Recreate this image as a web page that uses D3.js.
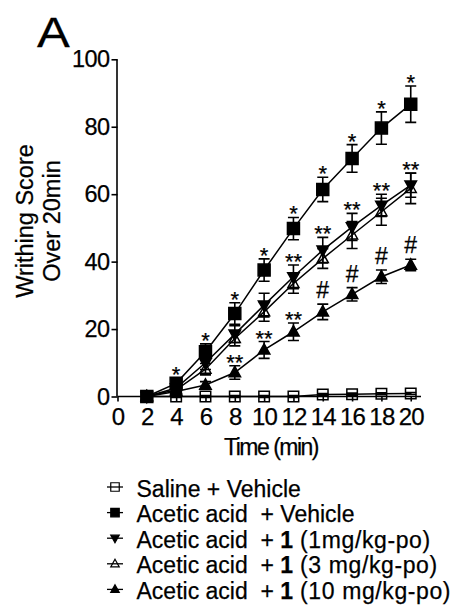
<!DOCTYPE html>
<html>
<head>
<meta charset="utf-8">
<script src="https://cdn.jsdelivr.net/npm/d3@7/dist/d3.min.js"></script>
<style>
  html, body { margin: 0; padding: 0; background: #fff; }
  svg { display: block; font-family: "Liberation Sans", Arial, Helvetica, sans-serif; }
  text { white-space: pre; fill: #000; stroke: #000; stroke-width: 0.25; }
</style>
</head>
<body>
<svg id="chart" width="457" height="605"></svg>
<script>
// Time points (min)
const times = [2, 4, 6, 8, 10, 12, 14, 16, 18, 20];

// Mean writhing score and SEM per group
const saline      = [0, 0, 0, 0, 0, 0, 0.6, 0.7, 0.8, 0.9];
const salineSem   = [0, 0.3, 0.3, 0.3, 0.3, 0.3, 0.3, 0.3, 0.3, 0.3];
const vehicle     = [0, 3.9, 13.3, 24.6, 37.5, 49.8, 61.4, 70.6, 79.6, 86.7];
const vehicleSem  = [0, 1.5, 2.3, 3.2, 3.3, 3.3, 3.6, 4.1, 4.8, 5.4];
const dose1       = [0, 2.5, 10.0, 18.5, 27.1, 35.5, 43.4, 50.3, 56.7, 62.7];
const dose1Sem    = [0, 1.0, 2.0, 2.5, 3.5, 3.5, 3.8, 4.0, 3.3, 3.6];
const dose3       = [0, 2.0, 8.1, 17.2, 25.1, 33.5, 40.9, 47.9, 54.8, 61.7];
const dose3Sem    = [0, 1.0, 1.7, 2.2, 2.8, 2.9, 2.9, 4.0, 4.0, 4.5];
const dose10      = [0, 1.5, 3.4, 7.1, 13.8, 19.2, 25.1, 30.3, 35.5, 39.0];
const dose10Sem   = [0, 0.6, 1.0, 2.0, 2.5, 2.6, 2.3, 2.0, 2.0, 1.7];

// Significance marks per time point ("" = none)
const vehicleMarks = ["", "*", "*", "*", "*", "*", "*", "*", "*", "*"];
const dose1Marks   = ["", "", "", "", "", "**", "**", "**", "**", "**"];
const dose10Marks  = ["", "", "", "**", "**", "**", "#", "#", "#", "#"];

// Axis ticks
const xTicks = [0, 2, 4, 6, 8, 10, 12, 14, 16, 18, 20];
const yTicks = [0, 20, 40, 60, 80, 100];

// Legend entries: [before bold, bold, after bold]
const legendLabels = [
  ["Saline + Vehicle", "", ""],
  ["Acetic acid  + Vehicle", "", ""],
  ["Acetic acid  + ", "1", " (1mg/kg-po)"],
  ["Acetic acid  + ", "1", " (3 mg/kg-po)"],
  ["Acetic acid  + ", "1", " (10 mg/kg-po)"]
];

const series = [
  { values: saline,  sem: salineSem,  shape: "square",  filled: false, size: 10.5, marks: null },
  { values: vehicle, sem: vehicleSem, shape: "square",  filled: true,  size: 12,   marks: vehicleMarks },
  { values: dose3,   sem: dose3Sem,   shape: "up",      filled: false, size: 11,   marks: null },
  { values: dose1,   sem: dose1Sem,   shape: "down",    filled: true,  size: 11.5, marks: dose1Marks },
  { values: dose10,  sem: dose10Sem,  shape: "up",      filled: true,  size: 11.5, marks: dose10Marks }
];
const legendOrder = [0, 1, 3, 2, 4];

const svg = d3.select("#chart");
const x = d3.scaleLinear().domain([0, 20.7]).range([117.5, 421]);
const y = d3.scaleLinear().domain([0, 100]).range([396.5, 59.3]);

function markerPath(shape, s) {
  const h = s / 2;
  if (shape === "square") return `M${-h},${-h}H${h}V${h}H${-h}Z`;
  const th = s * 0.9, half = s / 2;
  if (shape === "up") return `M0,${-th * 0.6}L${half},${th * 0.4}L${-half},${th * 0.4}Z`;
  return `M0,${th * 0.6}L${half},${-th * 0.4}L${-half},${-th * 0.4}Z`;
}

// Axes
const yAxis = d3.axisLeft(y).tickValues(yTicks).tickSize(6).tickPadding(2);
const gy = svg.append("g").attr("transform", `translate(${x(0)},0)`).call(yAxis);
gy.select(".domain").attr("d", `M-0.5,${y(100)}V${y(0)}`);
const xAxis = d3.axisBottom(x).tickValues(xTicks).tickSize(5).tickPadding(8);
const gx = svg.append("g").attr("transform", `translate(0,${y(0)})`).call(xAxis);
gx.select(".domain").attr("d", `M${x(0)},0H421`);
svg.selectAll(".domain, .tick line").attr("stroke", "#000").attr("stroke-width", 1.6);
gy.selectAll(".tick text").attr("font-size", 23.5).attr("fill", "#000")
  .attr("font-family", "Liberation Sans, Arial, sans-serif").attr("letter-spacing", -0.6);
gx.selectAll(".tick text").attr("font-size", 24).attr("fill", "#000")
  .attr("font-family", "Liberation Sans, Arial, sans-serif")
  .attr("letter-spacing", -0.8).attr("dy", "0.71em").attr("y", 11);

// Axis titles
svg.append("text").attr("x", 271).attr("y", 455).attr("text-anchor", "middle")
  .attr("font-size", 23).attr("letter-spacing", -1.5).text("Time (min)");
const yTitle = svg.append("text").attr("transform", "translate(0,221) rotate(-90)")
  .attr("text-anchor", "middle").attr("font-size", 23.5);
yTitle.append("tspan").attr("x", 0).attr("y", 33).text("Writhing Score");
yTitle.append("tspan").attr("x", 0).attr("y", 60).text("Over 20min");

// Panel letter
svg.append("text").attr("transform", "translate(37,47) scale(1.17,1)")
  .attr("font-size", 42).text("A");

const line = d3.line().x((d, i) => x(times[i])).y(d => y(d));

// Lines
series.forEach(s => {
  svg.append("path").datum(s.values).attr("d", line)
    .attr("fill", "none").attr("stroke", "#000").attr("stroke-width", 1.5);
});

// Error bars
series.forEach(s => {
  const g = svg.append("g").attr("stroke", "#000").attr("stroke-width", 1.6);
  s.values.forEach((v, i) => {
    if (!s.sem[i]) return;
    const cx = x(times[i]), y0 = y(v - s.sem[i]), y1 = y(v + s.sem[i]);
    g.append("path").attr("fill", "none")
      .attr("d", `M${cx},${y0}V${y1}M${cx - 5.5},${y1}H${cx + 5.5}M${cx - 5.5},${y0}H${cx + 5.5}`);
  });
});

// Markers
series.forEach(s => {
  svg.append("g").selectAll("path").data(s.values).join("path")
    .attr("transform", (d, i) => `translate(${x(times[i])},${y(d)})`)
    .attr("d", markerPath(s.shape, s.size))
    .attr("fill", s.filled ? "#000" : "none")
    .attr("stroke", "#000").attr("stroke-width", 1.5);
});

// Significance marks above the error bars
series.forEach(s => {
  if (!s.marks) return;
  s.marks.forEach((m, i) => {
    if (!m) return;
    const top = y(s.values[i] + s.sem[i]);
    const isHash = m === "#";
    svg.append("text").attr("x", x(times[i])).attr("y", top + (isHash ? -6 : 4))
      .attr("text-anchor", "middle").attr("font-size", isHash ? 23 : 22)
      .attr("stroke-width", isHash ? 0.6 : 0.5).text(m);
  });
});

// Legend
const lg = svg.append("g");
legendOrder.forEach((si, row) => {
  const s = series[si];
  const cy = 487 + row * 25.6;
  lg.append("line").attr("x1", 107).attr("x2", 123).attr("y1", cy).attr("y2", cy)
    .attr("stroke", "#000").attr("stroke-width", 1.3);
  lg.append("path").attr("transform", `translate(115,${cy})`)
    .attr("d", markerPath(s.shape, 8.5))
    .attr("fill", s.filled ? "#000" : "none").attr("stroke", "#000").attr("stroke-width", 1.2);
  const lab = legendLabels[row];
  const t = lg.append("text").attr("x", 136.5).attr("y", cy + 9.5).attr("font-size", 23);
  t.append("tspan").text(lab[0]);
  if (lab[1]) t.append("tspan").attr("font-weight", "bold").text(lab[1]);
  if (lab[2]) t.append("tspan").attr("letter-spacing", 0.6).text(lab[2]);
});
</script>
</body>
</html>
